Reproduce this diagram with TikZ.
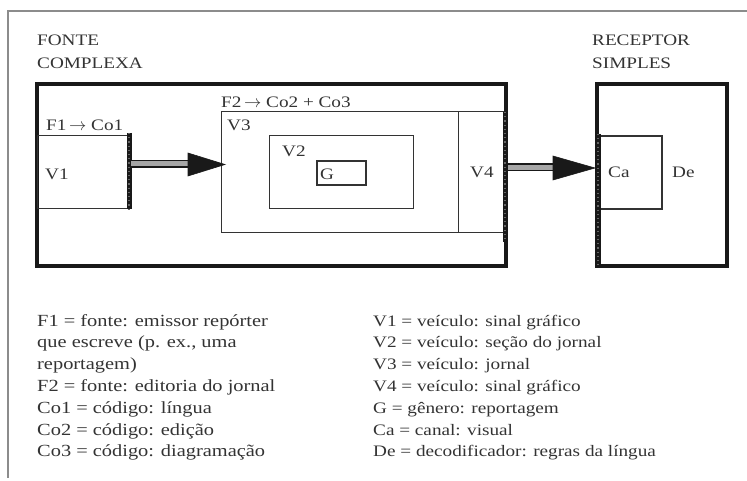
\documentclass[tikz,border=0pt]{standalone}
\usepackage{fontspec}
\setmainfont{Liberation Serif}[FakeStretch=1.2]
\begin{document}
\begin{tikzpicture}[x=1pt,y=-1pt,
  txt/.style={anchor=base west, inner sep=0pt, text=black!80, font=\fontsize{16}{20}\selectfont},
  legtxt/.style={txt, font=\fontsize{17}{21}\selectfont},
  legtxtr/.style={txt, font=\fontsize{16}{21}\selectfont},
  thickbox/.style={draw=black!90, line width=4.5pt, inner sep=0pt, outer sep=0pt, anchor=north west},
  thinbox/.style={draw=black!80, line width=1pt, inner sep=0pt, outer sep=0pt, anchor=north west},
  rough/.style={line width=5pt, black!90},
  roughspeck/.style={line width=1.2pt, black!60, dash pattern=on 1.2pt off 3pt},
  shaft/.style={double=black!35, double distance=5pt, line width=1.5pt, draw=black!90},
  head/.style={fill=black!90, draw=black!90, line width=0.6pt}
]
\useasboundingbox (0,0) rectangle (747,481);
% page frame
\coordinate (fr1) at (747,11);
\coordinate (fr2) at (8,11);
\coordinate (fr3) at (8,478);
\draw[black!45, line width=1.3pt] (fr1) -- (fr2) -- (fr3);

% headings
\node[txt] (fonte) at (37,46) {FONTE};
\node[txt] (complexa) at (37,69) {COMPLEXA};
\node[txt] (receptor) at (592,46) {RECEPTOR};
\node[txt] (simples) at (592,69) {SIMPLES};

% source
\node[thickbox, minimum width=469pt, minimum height=182pt] (src) at (37,84) {};
\node[thinbox, minimum width=92pt, minimum height=73pt] (v1) at (37,136) {};
\node[thinbox, minimum width=282pt, minimum height=121pt] (v3) at (221,112) {};
\coordinate (v4a) at (458,112);
\coordinate (v4b) at (458,233);
\draw[black!80, line width=1pt] (v4a) -- (v4b);
\node[thinbox, minimum width=144pt, minimum height=73pt] (v2) at (269,136) {};
\node[thinbox, line width=1.4pt, minimum width=49pt, minimum height=24pt] (g) at (317,161) {};

% receptor
\node[thickbox, minimum width=130pt, minimum height=182pt] (rec) at (597,84) {};
\node[thinbox, line width=1.3pt, minimum width=65pt, minimum height=73pt] (ca) at (597,136) {};

% rough edges
\coordinate (r1a) at (129,133);
\coordinate (r1b) at (129,209);
\coordinate (r2a) at (505,112);
\coordinate (r2b) at (505,242);
\coordinate (r3a) at (598,134);
\coordinate (r3b) at (598,266);
\foreach \a/\b in {r1a/r1b, r2a/r2b, r3a/r3b}{
  \draw[rough] (\a) -- (\b);
  \draw[roughspeck] (\a) -- (\b);
}

% arrows
\coordinate (a1s) at (131,164);
\coordinate (a1m) at (190,164);
\coordinate (a1t) at (225,164.5);
\draw[shaft] (a1s) -- (a1m);
\draw[head] (188,153) -- (a1t) -- (188,176) -- cycle;
\coordinate (a2s) at (508,167.5);
\coordinate (a2m) at (556,167.5);
\coordinate (a2t) at (595,168);
\draw[shaft] (a2s) -- (a2m);
\draw[head] (553,156) -- (a2t) -- (553,180) -- cycle;

% labels in diagram
\node[txt] (lf1) at (46,131) {F1\,$\rightarrow$ Co1};
\node[txt] (lf2) at (221,108) {F2\,$\rightarrow$ Co2 + Co3};
\node[txt] (lv3) at (227,131) {V3};
\node[txt] (lv2) at (282,157) {V2};
\node[txt] (lg) at (320,180) {G};
\node[txt] (lv1) at (45,180) {V1};
\node[txt] (lv4) at (470,178) {V4};
\node[txt] (lca) at (608,178) {Ca};
\node[txt] (lde) at (672,178) {De};

% legend
\foreach \t [count=\i] in {F1 = fonte: emissor repórter, que escreve (p. ex.{,} uma, reportagem), F2 = fonte: editoria do jornal, Co1 = código: língua, Co2 = código: edição, Co3 = código: diagramação}{
  \node[legtxt] (legl\i) at (37,{326+21.8*(\i-1)}) {\t};
}
\foreach \t [count=\i] in {V1 = veículo: sinal gráfico, V2 = veículo: seção do jornal, V3 = veículo: jornal, V4 = veículo: sinal gráfico, G = gênero: reportagem, Ca = canal: visual, De = decodificador: regras da língua}{
  \node[legtxtr] (legr\i) at (373,{326+21.8*(\i-1)}) {\t};
}
\end{tikzpicture}
\end{document}
